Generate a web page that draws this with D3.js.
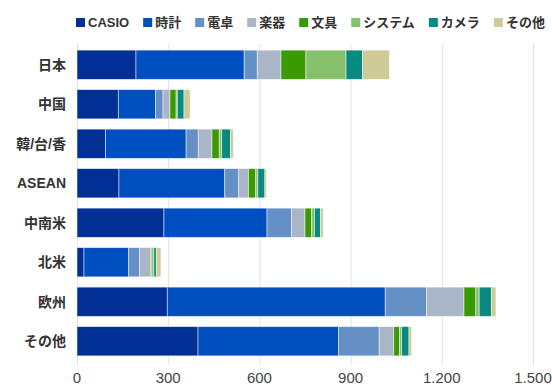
<!DOCTYPE html>
<html>
<head>
<meta charset="utf-8">
<script src="https://cdn.jsdelivr.net/npm/d3@7"></script>
<style>
    body { margin: 0; background: #fff; }
    svg { font-family: "Liberation Sans", "Noto Sans CJK JP", sans-serif; }
</style>
</head>
<body>
<svg width="552" height="385"></svg>
<script>
var regions = ["日本", "中国", "韓/台/香", "ASEAN", "中南米", "北米", "欧州", "その他"];
var seriesNames = ["CASIO", "時計", "電卓", "楽器", "文具", "システム", "カメラ", "その他"];
var seriesColors = ["#002f96", "#004fc0", "#6490c6", "#aab6c8", "#3a9a00", "#87c06a", "#088a80", "#cfcb99"];

var casio   = [194, 136, 94, 138, 286, 23, 297, 398];
var tokei   = [356, 122, 265, 348, 339, 147, 717, 462];
var dentaku = [43, 25, 40, 46, 81, 36, 136, 134];
var gakki   = [78, 23, 45, 32, 44, 36, 123, 48];
var bungu   = [82, 20, 24, 24, 22, 4, 39, 19];
var system  = [132, 4, 8, 7, 9, 7, 11, 7];
var camera  = [54, 22, 29, 23, 20, 8, 40, 24];
var other   = [89, 20, 9, 5, 9, 15, 15, 9];

var tickValues = [0, 300, 600, 900, 1200, 1500];
var tickLabels = ["0", "300", "600", "900", "1.200", "1.500"];

var seriesValues = [casio, tokei, dentaku, gakki, bungu, system, camera, other];

var svg = d3.select("svg");

var x = d3.scaleLinear().domain([0, 1500]).range([77, 533]);
var y = d3.scaleBand().domain(regions).range([45, 361]).paddingInner(0.26).paddingOuter(0.13);

// rows for stacking
var rows = regions.map(function (r, i) {
    var row = { region: r };
    seriesNames.forEach(function (s, j) { row[s] = seriesValues[j][i]; });
    return row;
});
var stacked = d3.stack().keys(seriesNames)(rows);

// grid
svg.append("g")
    .selectAll("line")
    .data(tickValues)
    .enter().append("line")
    .attr("x1", function (d) { return x(d) + 0.5; })
    .attr("x2", function (d) { return x(d) + 0.5; })
    .attr("y1", 44)
    .attr("y2", 365)
    .attr("stroke", "#e2e2e2")
    .attr("stroke-width", 1);

// x tick labels
svg.append("g")
    .selectAll("text")
    .data(tickValues)
    .enter().append("text")
    .attr("x", function (d) { return x(d); })
    .attr("y", 383)
    .attr("text-anchor", "middle")
    .attr("font-size", "15px")
    .attr("fill", "#444")
    .text(function (d, i) { return tickLabels[i]; });

// bars
svg.append("g")
    .selectAll("g")
    .data(stacked)
    .enter().append("g")
    .attr("fill", function (d, i) { return seriesColors[i]; })
    .selectAll("rect")
    .data(function (d) { return d; })
    .enter().append("rect")
    .attr("x", function (d) { return x(d[0]); })
    .attr("y", function (d) { return y(d.data.region); })
    .attr("width", function (d) { return x(d[1]) - x(d[0]); })
    .attr("height", y.bandwidth())
    .attr("stroke", "#fff")
    .attr("stroke-opacity", 0.6)
    .attr("stroke-width", 0.8);

// y labels
svg.append("g")
    .selectAll("text")
    .data(regions)
    .enter().append("text")
    .attr("x", 66)
    .attr("y", function (d) { return y(d) + y.bandwidth() / 2; })
    .attr("dy", "0.35em")
    .attr("text-anchor", "end")
    .attr("font-size", "14px")
    .attr("font-weight", "bold")
    .attr("fill", "#333")
    .text(function (d) { return d; });

// legend
var legend = svg.append("g");
var lx = 76;
seriesNames.forEach(function (name, i) {
    legend.append("rect")
        .attr("x", lx)
        .attr("y", 18)
        .attr("width", 9)
        .attr("height", 9)
        .attr("fill", seriesColors[i]);
    var t = legend.append("text")
        .attr("x", lx + 12)
        .attr("y", 22.5)
        .attr("dy", "0.35em")
        .attr("font-size", "13px")
        .attr("font-weight", "bold")
        .attr("fill", "#333")
        .text(name);
    lx += 12 + t.node().getComputedTextLength() + 14;
});
</script>
</body>
</html>
